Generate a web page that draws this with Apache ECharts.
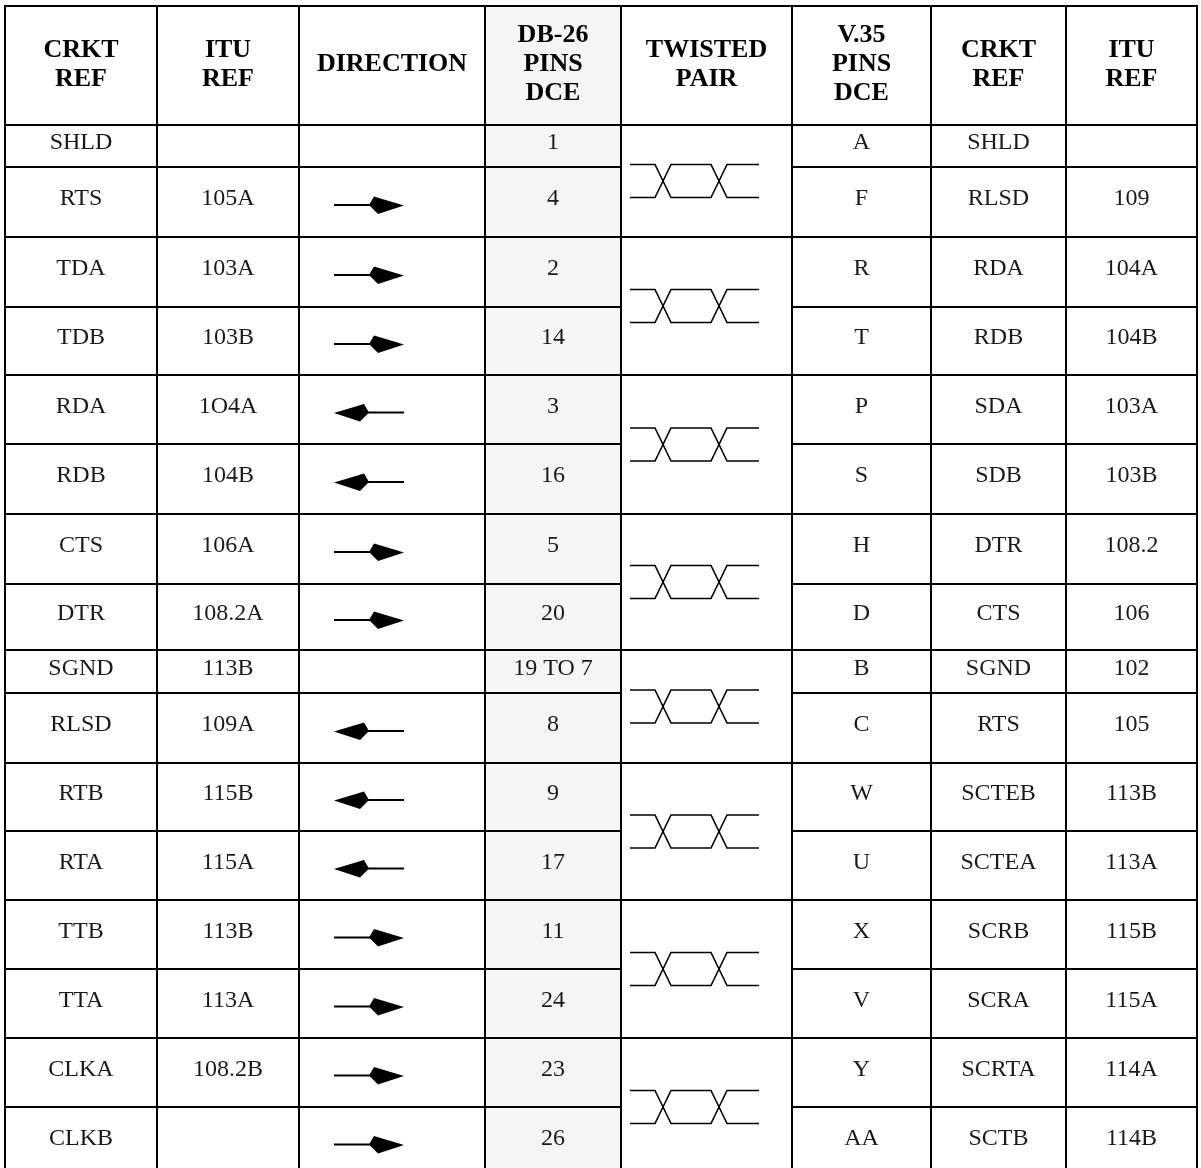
<!DOCTYPE html>
<html><head><meta charset="utf-8">
<script src="https://cdn.jsdelivr.net/npm/echarts@6/dist/echarts.min.js"></script>
<style>html,body{margin:0;padding:0;background:#fff}#c{width:1201px;height:1168px}</style>
</head><body><div id="c"></div>
<script>
// ---- data ----
const headers = ['CRKT\nREF','ITU\nREF','DIRECTION','DB-26\nPINS\nDCE','TWISTED\nPAIR','V.35\nPINS\nDCE','CRKT\nREF','ITU\nREF'];
const crktRef  = ['SHLD','RTS','TDA','TDB','RDA','RDB','CTS','DTR','SGND','RLSD','RTB','RTA','TTB','TTA','CLKA','CLKB'];
const ituRef   = ['','105A','103A','103B','1O4A','104B','106A','108.2A','113B','109A','115B','115A','113B','113A','108.2B',''];
const direction= ['','R','R','R','L','L','R','R','','L','L','L','R','R','R','R'];
const db26Pins = ['1','4','2','14','3','16','5','20','19 TO 7','8','9','17','11','24','23','26'];
const v35Pins  = ['A','F','R','T','P','S','H','D','B','C','W','U','X','V','Y','AA'];
const crktRef2 = ['SHLD','RLSD','RDA','RDB','SDA','SDB','DTR','CTS','SGND','RTS','SCTEB','SCTEA','SCRB','SCRA','SCRTA','SCTB'];
const ituRef2  = ['','109','104A','104B','103A','103B','108.2','106','102','105','113B','113A','115B','115A','114A','114B'];
const twistedPairs = [[0,1],[2,3],[4,5],[6,7],[8,9],[10,11],[12,13],[14,15]];

// ---- layout (not data) ----
const colEdges = [5,157,299,485,621,792,931,1066,1197];
const rowEdges = [6,125,167,237,307,375,444,514,584,650,693,763,831,900,969,1038,1107,1176];
const LINE = '#000';

function txt(p, t, size, weight, fill, lh){
  return {type:'text', style:{text:t, x:p[0], y:p[1], align:'center', verticalAlign:'middle',
    textAlign:'center', textVerticalAlign:'middle', fontFamily:'Liberation Serif', fontSize:size,
    fontWeight:weight, fill:fill, lineHeight:lh||30}};
}

const chart = echarts.init(document.getElementById('c'), null, {renderer:'canvas'});

const bgSeries = {
  type:'custom', data:[[0]], clip:false, silent:true, z:1,
  renderItem:function(params, api){
    const a = api.coord([colEdges[3], rowEdges[0]]);
    const b = api.coord([colEdges[4], rowEdges[rowEdges.length-1]]);
    return {type:'rect', shape:{x:a[0], y:a[1], width:b[0]-a[0], height:b[1]-a[1]}, style:{fill:'#f5f5f5'}};
  }
};

const gridSeries = {
  type:'custom', data:[[0]], clip:false, silent:true, z:5,
  renderItem:function(params, api){
    const ch = [];
    const yTop = rowEdges[0], yBot = rowEdges[rowEdges.length-1];
    const seg = (x1,y1,x2,y2)=>{const p=api.coord([x1,y1]), q=api.coord([x2,y2]);
      ch.push({type:'line', shape:{x1:p[0],y1:p[1],x2:q[0],y2:q[1]}, style:{stroke:LINE, lineWidth:2}});};
    colEdges.forEach(x=>seg(x,yTop-1,x,yBot));
    const xL = colEdges[0]-1, xR = colEdges[colEdges.length-1]+1;
    seg(xL,rowEdges[0],xR,rowEdges[0]);
    seg(xL,rowEdges[1],xR,rowEdges[1]);
    for(let k=1;k<crktRef.length;k++){
      const y = rowEdges[k+1];
      const inside = twistedPairs.some(pr=>pr[0]===k-1 && pr[1]===k);
      if(inside){ seg(xL,y,colEdges[4],y); seg(colEdges[5],y,xR,y); }
      else seg(xL,y,xR,y);
    }
    return {type:'group', children:ch};
  }
};

const headerSeries = {
  type:'custom', data:headers.map((h,i)=>[i]), clip:false, silent:true, z:6,
  renderItem:function(params, api){
    const c = api.value(0);
    const p = api.coord([(colEdges[c]+colEdges[c+1])/2, (rowEdges[0]+rowEdges[1])/2 - 1]);
    return txt(p, headers[c], 26, 'bold', '#000', 29);
  }
};

const rowSeries = {
  type:'custom', data:crktRef.map((t,i)=>[i]), clip:false, silent:true, z:6,
  renderItem:function(params, api){
    const i = api.value(0);
    const yc = (rowEdges[i+1]+rowEdges[i+2])/2;
    const cells = [crktRef[i], ituRef[i], null, db26Pins[i], null, v35Pins[i], crktRef2[i], ituRef2[i]];
    const ch = [];
    cells.forEach((t,c)=>{
      if(!t) return;
      const p = api.coord([(colEdges[c]+colEdges[c+1])/2, yc-3]);
      ch.push(txt(p, t, 24, 'normal', '#1a1a1a'));
    });
    const d = direction[i];
    if(d){
      const ya = yc + 3;
      const cx = 369; // arrow centre within DIRECTION column
      const s = d==='R' ? 1 : -1;
      const X = dx => cx + s*dx;
      const l1 = api.coord([X(-35), ya]), l2 = api.coord([X(3), ya]);
      ch.push({type:'line', shape:{x1:l1[0],y1:l1[1],x2:l2[0],y2:l2[1]}, style:{stroke:'#000', lineWidth:2}});
      const pts = [[X(0),ya],[X(5),ya-8.5],[X(35),ya+0.5],[X(9),ya+9]].map(q=>api.coord(q));
      ch.push({type:'polygon', shape:{points:pts}, style:{fill:'#000'}});
    }
    return {type:'group', children:ch};
  }
};

const twistSeries = {
  type:'custom', data:twistedPairs.map((p,i)=>[i]), clip:false, silent:true, z:6,
  renderItem:function(params, api){
    const pr = twistedPairs[api.value(0)];
    const yc = (rowEdges[pr[0]+1]+rowEdges[pr[1]+2])/2;
    const x0 = colEdges[4] + 9;
    const h = 16.5;
    const a = [[0,-h],[25,-h],[41,h],[81,h],[97,-h],[129,-h]];
    const b = [[0,h],[25,h],[41,-h],[81,-h],[97,h],[129,h]];
    const map = arr => arr.map(q=>api.coord([x0+q[0], yc+q[1]]));
    return {type:'group', children:[
      {type:'polyline', shape:{points:map(a)}, style:{stroke:'#000', lineWidth:1.6, fill:null}},
      {type:'polyline', shape:{points:map(b)}, style:{stroke:'#000', lineWidth:1.6, fill:null}}
    ]};
  }
};

chart.setOption({
  animation:false,
  backgroundColor:'#fff',
  grid:{left:0, right:0, top:0, bottom:0},
  xAxis:{type:'value', min:0, max:1201, show:false},
  yAxis:{type:'value', min:0, max:1168, inverse:true, show:false},
  series:[bgSeries, gridSeries, headerSeries, rowSeries, twistSeries]
});
</script></body></html>
